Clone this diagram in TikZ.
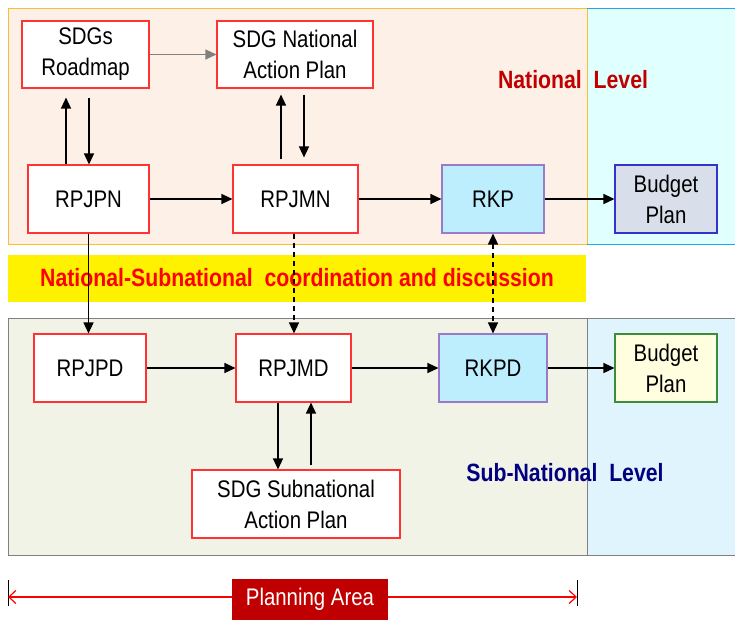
\documentclass[tikz,border=0pt]{standalone}
\usepackage{fontspec}
\setmainfont{Liberation Sans}[FakeStretch=0.85]
\usetikzlibrary{arrows.meta,calc}
\definecolor{natfill}{HTML}{FDF0E6}
\definecolor{natline}{HTML}{F8C030}
\definecolor{cyfillA}{HTML}{E0FFFF}
\definecolor{cylineA}{HTML}{20A8E8}
\definecolor{subfill}{HTML}{F0F3E6}
\definecolor{subline}{HTML}{808080}
\definecolor{cyfillB}{HTML}{DFF4FC}
\definecolor{rkfill}{HTML}{BDEEFD}
\definecolor{rkline}{HTML}{9B7BC8}
\definecolor{bpfillA}{HTML}{D9DFEA}
\definecolor{bplineA}{HTML}{3333CC}
\definecolor{bpfillB}{HTML}{FFFFE0}
\definecolor{bplineB}{HTML}{3C8C3C}
\definecolor{boxline}{HTML}{FF3333}
\definecolor{darkred}{HTML}{C00000}
\definecolor{navy}{HTML}{000080}
\begin{document}
\begin{tikzpicture}[x=1pt,y=-1pt,
  box/.style={draw=boxline,fill=white,line width=1.1pt,inner sep=0pt,align=center,
    font=\fontsize{24}{31}\selectfont},
  rkbox/.style={box,draw=rkline,fill=rkfill},
  tip/.tip={Triangle[length=11pt,width=10pt]},
  arr/.style={-tip,line width=1.3pt,black},
  darr/.style={arr,dashed,dash pattern=on 5pt off 4pt},
  ddarr/.style={tip-tip,line width=1.3pt,dashed,dash pattern=on 5pt off 4pt},
  lvl/.style={font=\fontsize{25}{30}\selectfont\bfseries}
]
\useasboundingbox (0,0) rectangle (735,619);
% background regions
\filldraw[fill=natfill,draw=natline,line width=1pt] (8,8) rectangle (587,244);
\fill[cyfillA] (587.5,8.5) rectangle (735,243.5);
\draw[natline,line width=1pt] (587,8) -- (587,244);
\draw[cylineA,line width=1pt] (587,8) -- (735,8) (587,244) -- (735,244);
\fill[yellow] (8,255) rectangle (586,302);
\filldraw[fill=subfill,draw=subline,line width=1pt] (8,318) rectangle (587,555);
\fill[cyfillB] (587.5,318.5) rectangle (735,554.5);
\draw[subline,line width=1pt] (587,318) -- (735,318) (587,555) -- (735,555) (587,318) -- (587,555);

% nodes
\node[box,minimum width=127pt,minimum height=67pt] (road) at (85.5,54.5) {SDGs\\Roadmap};
\node[box,minimum width=156pt,minimum height=67pt] (nap) at (295,54.5) {SDG National\\Action Plan};
\node[box,minimum width=121pt,minimum height=68pt] (rpjpn) at (88.5,199) {RPJPN};
\node[box,minimum width=125pt,minimum height=68pt] (rpjmn) at (295.5,199) {RPJMN};
\node[rkbox,minimum width=102pt,minimum height=68pt] (rkp) at (493,199) {RKP};
\node[box,draw=bplineA,fill=bpfillA,minimum width=102pt,minimum height=68pt] (bpn) at (666,199) {Budget\\Plan};
\node[box,minimum width=112pt,minimum height=68pt] (rpjpd) at (90,368) {RPJPD};
\node[box,minimum width=115pt,minimum height=68pt] (rpjmd) at (293.5,368) {RPJMD};
\node[rkbox,minimum width=108pt,minimum height=68pt] (rkpd) at (493,368) {RKPD};
\node[box,draw=bplineB,fill=bpfillB,minimum width=102pt,minimum height=68pt] (bps) at (666,368) {Budget\\Plan};
\node[box,minimum width=208pt,minimum height=68pt] (snap) at (296,504) {SDG Subnational\\Action Plan};

% labels
\node[lvl,text=darkred] (natlbl) at (573,80) {National\ \ Level};
\node[lvl,text=navy] (sublbl) at (565,473) {Sub-National\ \ Level};
\node[lvl,text=red] (coord) at (297,278) {National-Subnational\ \ coordination and discussion};

% connectors
\draw[-tip,line width=1.2pt,gray] (road.east) -- (nap.west);
\draw[arr,shorten >=9pt] ([xshift=-22.5pt]rpjpn.north) -- ([xshift=-22.5pt]rpjpn.north |- road.south);
\draw[arr,shorten <=9pt] ([xshift=3.5pt]road.south) -- ([xshift=3.5pt]road.south |- rpjpn.north);
\draw[arr,shorten <=5pt,shorten >=6pt] ([xshift=-14.5pt]rpjmn.north) -- ([xshift=-14.5pt]rpjmn.north |- nap.south);
\draw[arr,shorten <=6pt,shorten >=7pt] ([xshift=9pt]nap.south) -- ([xshift=9pt]nap.south |- rpjmn.north);
\draw[arr] (rpjpn) -- (rpjmn);
\draw[arr] (rpjmn) -- (rkp);
\draw[arr] (rkp) -- (bpn);
\draw[arr] (rpjpn.south) -- (rpjpn.south |- rpjpd.north);
\draw[darr] ([xshift=-1.5pt]rpjmn.south) -- ([xshift=-1.5pt]rpjmn.south |- rpjmd.north);
\draw[ddarr] (rkp.south) -- (rkpd.north);
\draw[arr] (rpjpd) -- (rpjmd);
\draw[arr] (rpjmd) -- (rkpd);
\draw[arr] (rkpd) -- (bps);
\draw[arr] ([xshift=-15.5pt]rpjmd.south) -- ([xshift=-15.5pt]rpjmd.south |- snap.north);
\draw[arr,shorten <=4pt] ([xshift=17.5pt]rpjmd.south |- snap.north) -- ([xshift=17.5pt]rpjmd.south);

% planning area
\coordinate (pl) at (8,597);
\coordinate (pr) at (577,597);
\draw[black,line width=0.6pt] (8,580) -- (8,606) (577,580) -- (577,606);
\draw[red,line width=1.2pt,{Straight Barb[length=7pt,width=13pt]}-{Straight Barb[length=7pt,width=13pt]}] (pl) -- (pr);
\node[fill=darkred,text=white,minimum width=156pt,minimum height=41pt,inner sep=0pt,
  font=\fontsize{24}{28}\selectfont] (plan) at (310,599) {Planning Area};
\end{tikzpicture}
\end{document}
